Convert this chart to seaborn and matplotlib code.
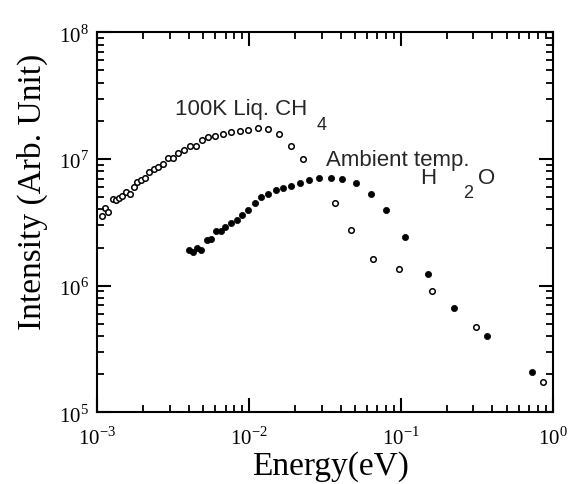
import numpy as np
import pandas as pd
import matplotlib
matplotlib.use("Agg")
import matplotlib.pyplot as plt
import seaborn as sns
from matplotlib.ticker import FuncFormatter

# ---- data ----
ch4_energy = [1.07e-3, 1.12e-3, 1.18e-3, 1.26e-3, 1.32e-3, 1.39e-3, 1.46e-3, 1.55e-3,
              1.63e-3, 1.74e-3, 1.83e-3, 1.94e-3, 2.06e-3, 2.19e-3, 2.35e-3, 2.52e-3,
              2.71e-3, 2.91e-3, 3.15e-3, 3.42e-3, 3.74e-3, 4.10e-3, 4.45e-3, 4.87e-3,
              5.38e-3, 5.96e-3, 6.73e-3, 7.60e-3, 8.67e-3, 9.88e-3, 1.14e-2, 1.33e-2,
              1.57e-2, 1.89e-2, 2.28e-2, 3.68e-2, 4.69e-2, 6.55e-2, 9.67e-2, 0.160,
              0.311, 0.863]
ch4_intensity = [3.53e6, 4.08e6, 3.84e6, 4.83e6, 4.77e6, 4.95e6, 5.13e6, 5.52e6,
                 5.32e6, 6.01e6, 6.55e6, 6.79e6, 7.04e6, 7.94e6, 8.34e6, 8.65e6,
                 9.08e6, 1.02e7, 1.02e7, 1.11e7, 1.18e7, 1.26e7, 1.27e7, 1.42e7,
                 1.48e7, 1.53e7, 1.57e7, 1.62e7, 1.66e7, 1.70e7, 1.75e7, 1.72e7,
                 1.58e7, 1.26e7, 1.00e7, 4.47e6, 2.75e6, 1.61e6, 1.36e6, 9.03e5,
                 4.70e5, 1.74e5]

h2o_energy = [4.04e-3, 4.28e-3, 4.52e-3, 4.84e-3, 5.26e-3, 5.59e-3, 6.08e-3, 6.51e-3,
              6.96e-3, 7.58e-3, 8.28e-3, 9.02e-3, 9.86e-3, 1.09e-2, 1.20e-2, 1.34e-2,
              1.50e-2, 1.68e-2, 1.90e-2, 2.16e-2, 2.49e-2, 2.87e-2, 3.45e-2, 4.12e-2,
              5.06e-2, 6.32e-2, 7.98e-2, 0.107, 0.150, 0.224, 0.367, 0.735]
h2o_intensity = [1.91e6, 1.85e6, 1.97e6, 1.91e6, 2.31e6, 2.34e6, 2.69e6, 2.72e6,
                 2.92e6, 3.11e6, 3.31e6, 3.60e6, 3.94e6, 4.46e6, 4.99e6, 5.29e6,
                 5.69e6, 5.90e6, 6.16e6, 6.43e6, 6.83e6, 7.04e6, 7.14e6, 6.95e6,
                 6.47e6, 5.29e6, 3.94e6, 2.41e6, 1.24e6, 6.67e5, 4.01e5, 2.08e5]

x_limits = [1e-3, 1e0]
y_limits = [1e5, 1e8]

ch4 = pd.DataFrame({"Energy": ch4_energy, "Intensity": ch4_intensity})
h2o = pd.DataFrame({"Energy": h2o_energy, "Intensity": h2o_intensity})

sns.set_theme(style="ticks")
plt.rcParams["mathtext.fontset"] = "custom"
plt.rcParams["mathtext.rm"] = "Liberation Serif"
plt.rcParams["axes.axisbelow"] = False

fig, ax = plt.subplots(figsize=(5.68, 4.85), dpi=100)
fig.subplots_adjust(left=0.1713, right=0.9731, bottom=0.1478, top=0.9313)

sns.scatterplot(data=ch4, x="Energy", y="Intensity", ax=ax, s=16,
                facecolor="white", edgecolor="black", linewidth=1.1)
sns.scatterplot(data=h2o, x="Energy", y="Intensity", ax=ax, s=20,
                color="black", edgecolor="black", linewidth=0.5)

ax.set_xscale("log")
ax.set_yscale("log")
ax.set_xlim(x_limits[0], x_limits[1])
ax.set_ylim(y_limits[0], y_limits[1])
ax.set_axisbelow(False)

def pow10(v, pos):
    return r"$\mathrm{10}^{%d}$" % int(round(np.log10(v)))

ax.xaxis.set_major_formatter(FuncFormatter(pow10))
ax.yaxis.set_major_formatter(FuncFormatter(pow10))

ax.tick_params(which="major", direction="in", length=10, width=1.5, color="black",
               top=True, right=True)
ax.tick_params(which="minor", direction="in", length=5, width=1.3, color="black",
               top=True, right=True)
for sp in ax.spines.values():
    sp.set_linewidth(1.5)
    sp.set_color("black")
ax.tick_params(which="major", labelsize=15, labelcolor="black")
ax.tick_params(axis="x", which="major", pad=9)
ax.tick_params(axis="y", which="major", pad=6)

serif = ["Liberation Serif", "DejaVu Serif"]
ax.set_xlabel("Energy(eV)", fontsize=24, color="black", labelpad=2, x=0.511,
              fontfamily=serif)
ax.set_ylabel("Intensity (Arb. Unit)", fontsize=24, color="black", labelpad=8, y=0.583,
              fontfamily=serif)

sans = ["Liberation Sans", "DejaVu Sans"]
T = ax.transAxes
ax.text(0.1706, 0.785, "100K Liq. CH", transform=T, fontsize=16, family=sans, va="baseline")
ax.text(0.4824, 0.7455, "4", transform=T, fontsize=13, family=sans, va="baseline")
ax.text(0.5022, 0.6508, "Ambient temp.", transform=T, fontsize=16, family=sans, va="baseline")
ax.text(0.7086, 0.6034, "H", transform=T, fontsize=16, family=sans, va="baseline")
ax.text(0.8030, 0.5666, "2", transform=T, fontsize=13, family=sans, va="baseline")
ax.text(0.8359, 0.6034, "O", transform=T, fontsize=16, family=sans, va="baseline")

fig.savefig("out.png", dpi=100)
